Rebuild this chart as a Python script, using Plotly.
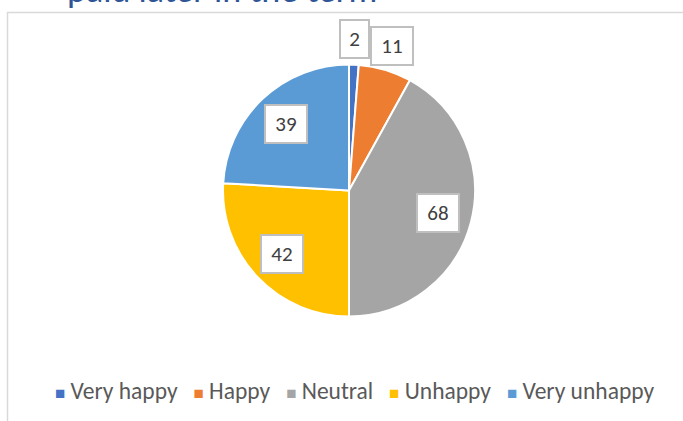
import math
import plotly.graph_objects as go

# ---- data ----
labels = ["Very happy", "Happy", "Neutral", "Unhappy", "Very unhappy"]
values = [2, 11, 68, 42, 39]
colors = ["#4472C4", "#ED7D31", "#A5A5A5", "#FFC000", "#5B9BD5"]
title_text = "paid later in the term"

W, H = 683, 421
CX, CY, R = 349, 190.5, 126  # pie centre / radius in px
FONT = "Calibri, Carlito, Lato, sans-serif"

fig = go.Figure()
fig.add_trace(go.Pie(
    labels=labels, values=values, sort=False, direction="clockwise", rotation=0,
    marker=dict(colors=colors, line=dict(color="white", width=2)),
    textinfo="none", hoverinfo="label+value", showlegend=False,
    domain=dict(x=[(CX - R) / W, (CX + R) / W], y=[1 - (CY + R) / H, 1 - (CY - R) / H]),
))

# data labels (boxed callouts) placed from slice mid-angles
total = sum(values)
cum = 0
annotations = []
for v in values:
    mid = (cum + v / 2) / total * 2 * math.pi
    cum += v
    frac = v / total
    r = R * (0.73 if frac > 0.1 else 1.2)
    px = CX + r * math.sin(mid)
    py = CY - r * math.cos(mid)
    nd = len(str(v))
    annotations.append(dict(
        x=px / W, y=1 - py / H, xref="paper", yref="paper", showarrow=False,
        text=str(v), font=dict(family=FONT, size=21, color="#404040"),
        bgcolor="white", bordercolor="#BFBFBF", borderwidth=2, borderpad=3,
        width=8 + 13 * nd, height=30, xanchor="center", yanchor="middle",
    ))

# title (cut off at top as in the source)
annotations.append(dict(
    x=65 / W, y=1 + 10.5 / H, xref="paper", yref="paper", showarrow=False,
    text=title_text, font=dict(family=FONT, size=36, color="#2F5597"),
    xanchor="left", yanchor="middle",
))

# legend as a single text line
parts = []
for c, l in zip(colors, labels):
    parts.append(f'<span style="color:{c};font-size:17px">■</span>&nbsp;{l}')
legend_text = "&nbsp;&nbsp;&nbsp;".join(parts)
annotations.append(dict(
    x=354.5 / W, y=1 - 391 / H, xref="paper", yref="paper", showarrow=False,
    text=legend_text, font=dict(family=FONT, size=23.5, color="#595959"),
    xanchor="center", yanchor="middle",
))

fig.update_layout(
    width=W, height=H, margin=dict(l=0, r=0, t=0, b=0),
    paper_bgcolor="white", plot_bgcolor="white",
    annotations=annotations,
    shapes=[dict(type="rect", xref="paper", yref="paper",
                 x0=7.5 / W, x1=1.2, y0=-0.2, y1=1 - 12.5 / H,
                 line=dict(color="#D9D9D9", width=1.5), fillcolor="rgba(0,0,0,0)",
                 layer="below")],
)
fig.write_html("out.html", config={"displayModeBar": False},
               post_script="document.body.style.margin='0';")
